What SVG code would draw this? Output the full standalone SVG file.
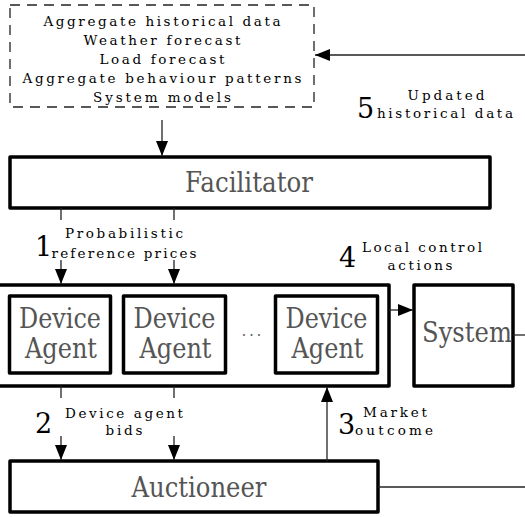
<svg xmlns="http://www.w3.org/2000/svg" width="525" height="517" viewBox="0 0 525 517">
<style>
text{font-family:'DejaVu Serif','Noto Serif',serif}
.box{fill:#fff;stroke:#000;stroke-width:3.5;stroke-linejoin:round}
.big{fill:#555;text-anchor:middle}
.sm{font-size:13.5px;fill:#000;text-anchor:middle}
.num{font-size:27px;fill:#000}
.ln{stroke:#222;stroke-width:1.3;fill:none}
</style>
<defs>
<marker id="ah" markerUnits="userSpaceOnUse" markerWidth="16" markerHeight="12" refX="15" refY="6" orient="auto">
<path d="M0,0 L15,6 L0,12 Z" fill="#000"/>
</marker>
</defs>
<rect width="525" height="517" fill="#fff"/>

<g id="data">
<rect x="10" y="5" width="304" height="102" fill="none" stroke="#222" stroke-width="1.3" stroke-dasharray="10,7"/>
<text class="sm" x="162" y="26" textLength="237" lengthAdjust="spacing">Aggregate historical data</text>
<text class="sm" x="162" y="45" textLength="157" lengthAdjust="spacing">Weather forecast</text>
<text class="sm" x="162" y="64" textLength="125" lengthAdjust="spacing">Load forecast</text>
<text class="sm" x="162" y="83" textLength="279" lengthAdjust="spacing">Aggregate behaviour patterns</text>
<text class="sm" x="162" y="102" textLength="138" lengthAdjust="spacing">System models</text>
</g>

<g id="facilitator">
<rect class="box" x="10" y="157" width="480" height="51"/>
<text class="big" x="249" y="192" font-size="27" textLength="128" lengthAdjust="spacingAndGlyphs">Facilitator</text>
</g>

<g id="agents">
<rect class="box" x="-5" y="285" width="394" height="101" stroke-width="3"/>
<text class="big" x="253" y="336" font-size="14" letter-spacing="3">...</text>
</g>
<g id="agent1">
<rect class="box" x="9.5" y="296" width="101" height="77"/>
<text class="big" x="60" y="328" font-size="28" textLength="82" lengthAdjust="spacingAndGlyphs">Device</text>
<text class="big" x="61" y="358" font-size="28" textLength="72" lengthAdjust="spacingAndGlyphs">Agent</text>
</g>
<g id="agent2">
<rect class="box" x="123.5" y="296" width="102" height="77"/>
<text class="big" x="174.5" y="328" font-size="28" textLength="82" lengthAdjust="spacingAndGlyphs">Device</text>
<text class="big" x="175.5" y="358" font-size="28" textLength="72" lengthAdjust="spacingAndGlyphs">Agent</text>
</g>
<g id="agent3">
<rect class="box" x="275.5" y="296" width="102" height="77"/>
<text class="big" x="326.5" y="328" font-size="28" textLength="82" lengthAdjust="spacingAndGlyphs">Device</text>
<text class="big" x="327.5" y="358" font-size="28" textLength="72" lengthAdjust="spacingAndGlyphs">Agent</text>
</g>

<g id="system">
<rect class="box" x="414" y="285" width="99" height="101" stroke-width="3"/>
<text class="big" x="467" y="342" font-size="28" textLength="90" lengthAdjust="spacingAndGlyphs">System</text>
</g>

<g id="auctioneer">
<rect class="box" x="10" y="461" width="368" height="51"/>
<text class="big" x="199" y="497" font-size="27" textLength="135" lengthAdjust="spacingAndGlyphs">Auctioneer</text>
</g>

<g id="connectors">
<line class="ln" x1="525" y1="55" x2="315" y2="55" marker-end="url(#ah)"/>
<line class="ln" x1="162" y1="120" x2="162" y2="156" marker-end="url(#ah)"/>
<line class="ln" x1="61" y1="208" x2="61" y2="220"/>
<line class="ln" x1="61" y1="260" x2="61" y2="284" marker-end="url(#ah)"/>
<line class="ln" x1="174" y1="208" x2="174" y2="220"/>
<line class="ln" x1="174" y1="260" x2="174" y2="284" marker-end="url(#ah)"/>
<line class="ln" x1="389" y1="310" x2="413" y2="310" marker-end="url(#ah)"/>
<line class="ln" x1="513" y1="335" x2="525" y2="335"/>
<line class="ln" x1="61" y1="386" x2="61" y2="398"/>
<line class="ln" x1="61" y1="436" x2="61" y2="460" marker-end="url(#ah)"/>
<line class="ln" x1="174" y1="386" x2="174" y2="398"/>
<line class="ln" x1="174" y1="436" x2="174" y2="460" marker-end="url(#ah)"/>
<line class="ln" x1="327" y1="461" x2="327" y2="387" marker-end="url(#ah)"/>
<line class="ln" x1="378" y1="487" x2="525" y2="487"/>
</g>

<g id="labels">
<text class="num" x="357" y="118">5</text>
<text class="sm" x="446" y="100" textLength="77" lengthAdjust="spacing">Updated</text>
<text class="sm" x="445" y="118" textLength="136" lengthAdjust="spacing">historical data</text>
<text class="num" x="35" y="256">1</text>
<text class="sm" x="124" y="238" textLength="118" lengthAdjust="spacing">Probabilistic</text>
<text class="sm" x="124" y="258" textLength="145" lengthAdjust="spacing">reference prices</text>
<text class="num" x="339" y="267">4</text>
<text class="sm" x="422" y="252" textLength="120" lengthAdjust="spacing">Local control</text>
<text class="sm" x="420" y="270" textLength="65" lengthAdjust="spacing">actions</text>
<text class="num" x="35" y="433">2</text>
<text class="sm" x="124" y="418" textLength="118" lengthAdjust="spacing">Device agent</text>
<text class="sm" x="124" y="435" textLength="37" lengthAdjust="spacing">bids</text>
<text class="num" x="338" y="434">3</text>
<text class="sm" x="395" y="417" textLength="64" lengthAdjust="spacing">Market</text>
<text class="sm" x="394" y="435" textLength="78" lengthAdjust="spacing">outcome</text>
</g>
</svg>
